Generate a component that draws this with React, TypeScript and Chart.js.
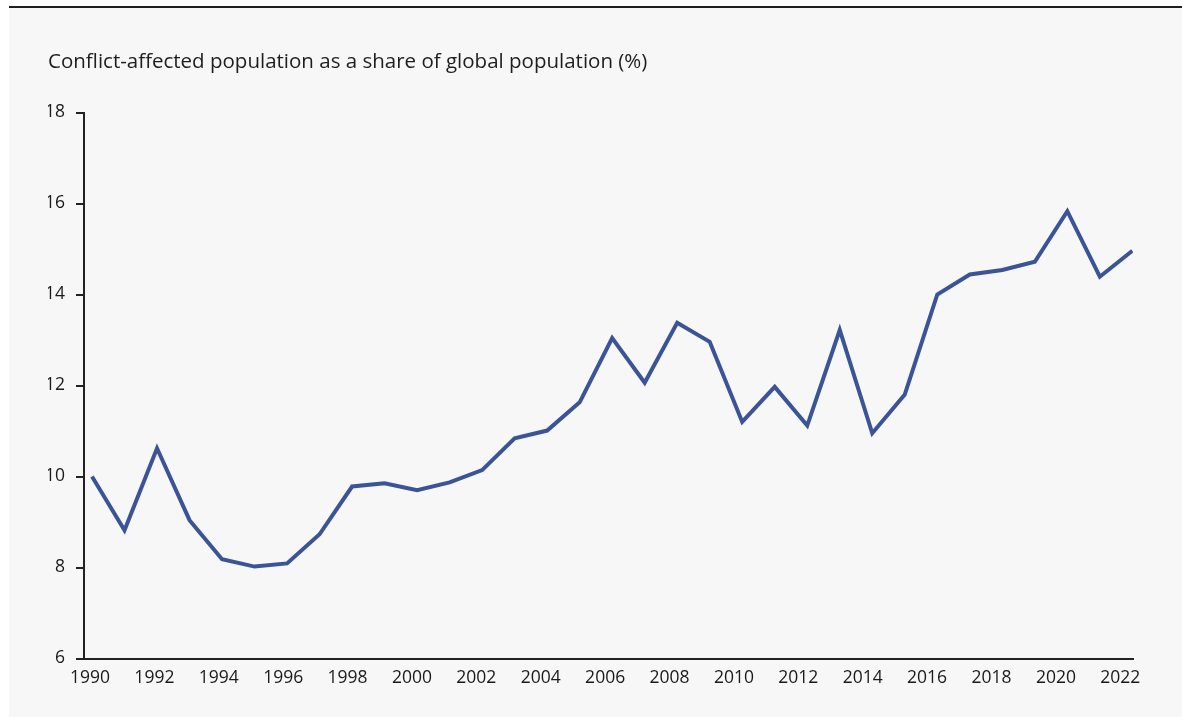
import React, { useEffect, useRef } from "react";
import { Chart, registerables } from "chart.js";

Chart.register(...registerables);

const years: number[] = [
  1990, 1991, 1992, 1993, 1994, 1995, 1996, 1997, 1998, 1999, 2000, 2001,
  2002, 2003, 2004, 2005, 2006, 2007, 2008, 2009, 2010, 2011, 2012, 2013,
  2014, 2015, 2016, 2017, 2018, 2019, 2020, 2021, 2022,
];
const sharePct: number[] = [
  10.0, 8.82, 10.62, 9.04, 8.18, 8.02, 8.09, 8.73, 9.78, 9.85, 9.7, 9.87,
  10.14, 10.84, 11.01, 11.63, 13.04, 12.06, 13.38, 12.96, 11.2, 11.97, 11.12, 13.22,
  10.95, 11.8, 14.0, 14.44, 14.54, 14.72, 15.83, 14.39, 14.96,
];
const xTickLabels: number[] = [
  1990, 1992, 1994, 1996, 1998, 2000, 2002, 2004, 2006, 2008, 2010, 2012,
  2014, 2016, 2018, 2020, 2022,
];
const yTicks: number[] = [6, 8, 10, 12, 14, 16, 18];
const titleText = "Conflict-affected population as a share of global population (%)";

const FONT = "'Open Sans', sans-serif";

export default function App() {
  const ref = useRef<HTMLCanvasElement | null>(null);

  useEffect(() => {
    if (!ref.current) return;
    const chart = new Chart(ref.current, {
      type: "line",
      data: {
        datasets: [
          {
            data: years.map((y, i) => ({ x: y, y: sharePct[i] })),
            borderColor: "#3b5397",
            borderWidth: 4,
            pointRadius: 0,
            tension: 0,
            borderJoinStyle: "miter",
            xAxisID: "x",
            yAxisID: "y",
          },
        ],
      },
      options: {
        animation: false,
        responsive: false,
        maintainAspectRatio: false,
        layout: { padding: { left: 39, right: 49, top: 0, bottom: 0 } },
        plugins: {
          legend: { display: false },
          tooltip: { enabled: false },
          title: {
            display: true,
            text: titleText,
            align: "start",
            color: "#1e1e1e",
            font: { family: FONT, size: 20.5, weight: "normal" },
            padding: { top: 41.7, bottom: 38.2 },
          },
        },
        scales: {
          x: {
            type: "linear",
            display: false,
            min: 1989.754,
            max: 2022.02,
          },
          xl: {
            type: "linear",
            position: "bottom",
            min: 1989.814,
            max: 2022.395,
            grid: { drawOnChartArea: false, drawTicks: false },
            border: { display: true, color: "#222", width: 2 },
            afterBuildTicks: (s: any) => {
              s.ticks = xTickLabels.map((v) => ({ value: v }));
            },
            afterFit: (s: any) => {
              s.height = 58.5;
            },
            ticks: {
              autoSkip: false,
              maxRotation: 0,
              padding: 9,
              color: "#1a1a1a",
              font: { family: FONT, size: 17.5 },
              callback: (v: any) => String(v),
            },
          },
          y: {
            type: "linear",
            min: 6,
            max: 18,
            grid: {
              drawOnChartArea: false,
              drawTicks: true,
              tickLength: 8,
              color: "#222",
              lineWidth: 2,
            },
            border: { display: true, color: "#222", width: 2 },
            afterBuildTicks: (s: any) => {
              s.ticks = yTicks.map((v) => ({ value: v }));
            },
            afterFit: (s: any) => {
              s.width = 36;
            },
            ticks: {
              padding: 11,
              color: "#1a1a1a",
              font: { family: FONT, size: 17.5 },
              callback: (v: any) => String(v),
            },
          },
        },
      },
    } as any);
    return () => chart.destroy();
  }, []);

  return (
    <div
      style={{
        position: "fixed",
        left: 0,
        top: 0,
        width: 1182,
        height: 719,
        background: "#ffffff",
      }}
    >
      <div
        style={{
          position: "absolute",
          left: 9,
          top: 6,
          width: 1173,
          height: 2,
          background: "#1e1e1e",
        }}
      />
      <div
        style={{
          position: "absolute",
          left: 9,
          top: 8,
          width: 1173,
          height: 709,
          background: "#f7f7f7",
        }}
      >
        <canvas ref={ref} width={1173} height={709} style={{ display: "block" }} />
      </div>
    </div>
  );
}
